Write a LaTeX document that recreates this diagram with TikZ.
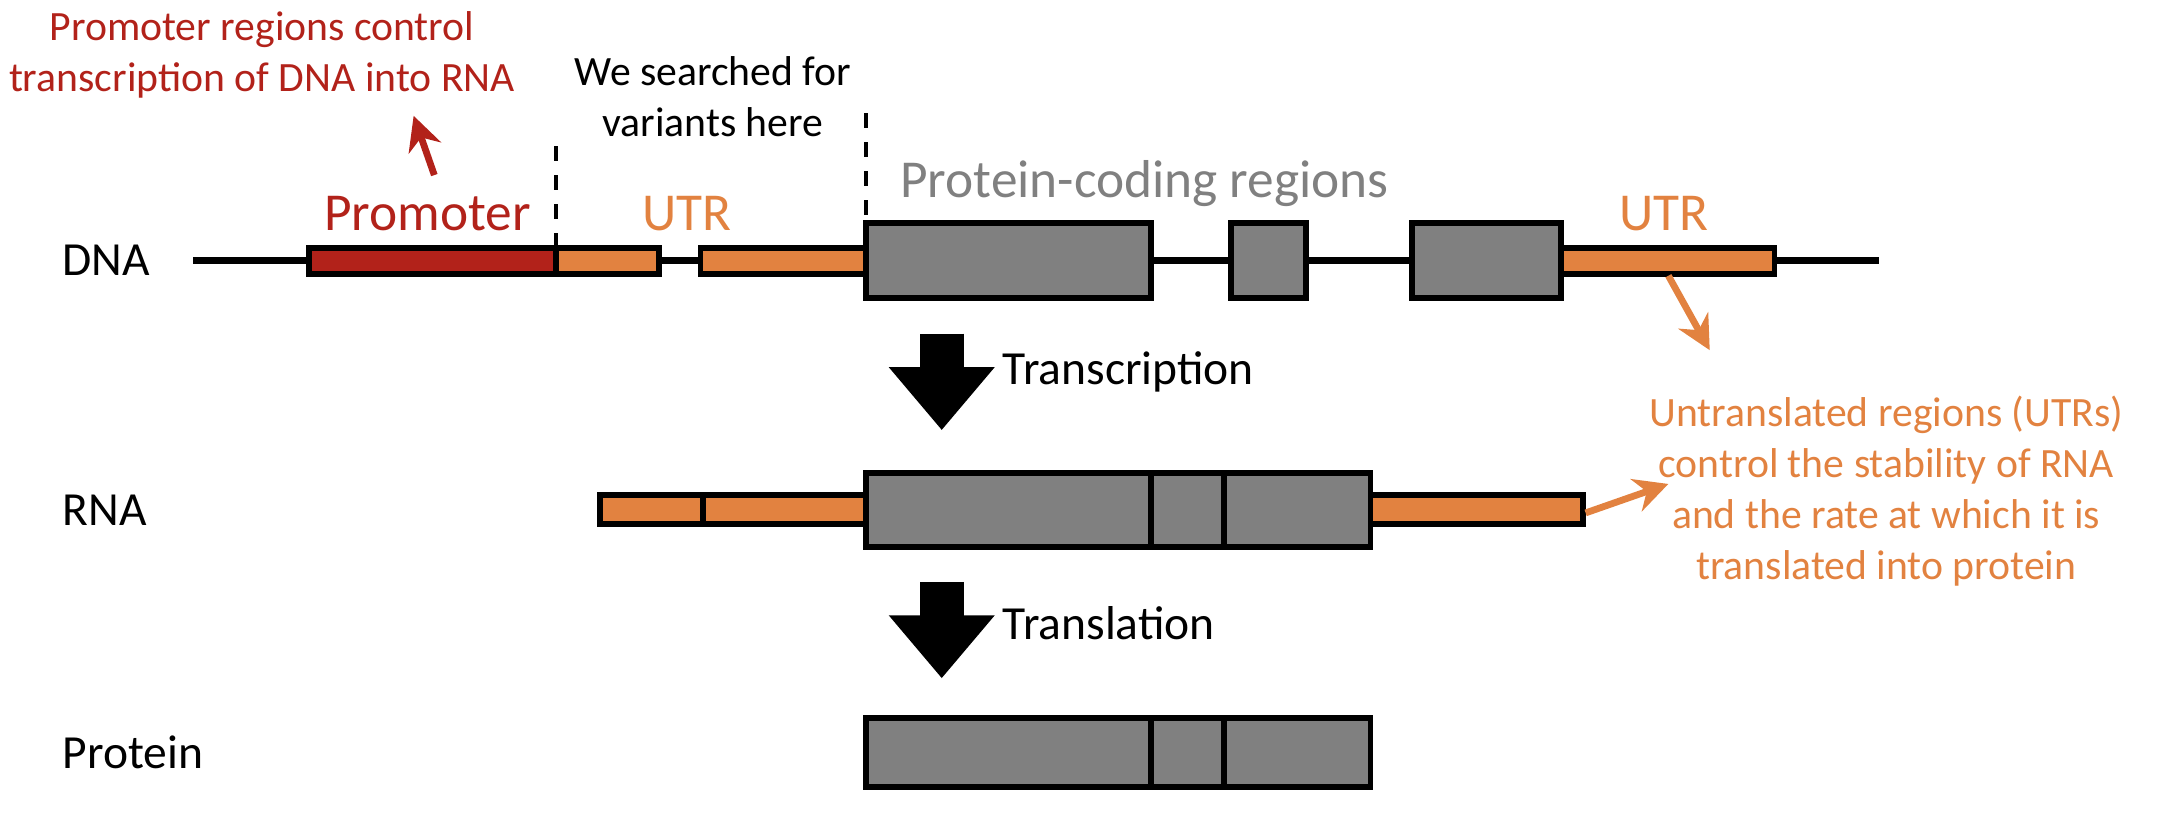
\documentclass[tikz,border=0pt]{standalone}
\usepackage{fontspec}
\setmainfont{Carlito}
\usetikzlibrary{arrows.meta}
\definecolor{promred}{RGB}{178,34,26}
\definecolor{utrorange}{RGB}{226,130,64}
\definecolor{codegrey}{RGB}{128,128,128}
\tikzset{
	exon/.style={draw=black, line width=1.2pt},
	annot/.style={align=center, font=\fontsize{8.6}{10.5}\selectfont},
	rowlabel/.style={anchor=west, font=\fontsize{9.8}{12}\selectfont},
	region/.style={font=\fontsize{11}{13}\selectfont},
	flowstep/.style={line width=9pt, -{Triangle[width=21pt,length=13pt]}},
	note/.style={line width=1.4pt, -{Stealth[width=7pt,length=7pt]}}
}
\begin{document}
\begin{tikzpicture}[x=0.01cm, y=-0.01cm]
	\useasboundingbox (0,0) rectangle (1568,595);
	
	% DNA
	\draw[line width=1.4pt] (140,189) -- (1363,189);
	\draw[exon, fill=promred] (224,180) rectangle (403,199);
	\draw[exon, fill=utrorange] (403,180) rectangle (478,199);
	\draw[exon, fill=utrorange] (508,180) rectangle (628,199);
	\draw[exon, fill=codegrey] (628,162) rectangle (835,216);
	\draw[exon, fill=codegrey] (893,162) rectangle (947,216);
	\draw[exon, fill=codegrey] (1024,162) rectangle (1132,216);
	\draw[exon, fill=utrorange] (1132,180) rectangle (1287,199);
	\coordinate (utr3) at (1210,200);
	\coordinate (promtop) at (315,127);
	
	\draw[dashed, thick] (403,106) -- (403,180);
	\draw[dashed, thick] (628,82) -- (628,162);
	
	\node[rowlabel] (dna) at (33,189) {DNA};
	\node[region, promred] (prom) at (310,155) {Promoter};
	\node[region, utrorange] (utra) at (498,155) {UTR};
	\node[region, codegrey] (coding) at (830,133) {Protein-coding regions};
	\node[region, utrorange] (utrb) at (1207,155) {UTR};
	\node[annot] (search) at (517,70) {We searched for\\variants here};
	\node[annot, promred] (promnote) at (190,40) {Promoter regions control\\transcription of DNA into RNA};
	\coordinate (promhead) at (300,84);
	\draw[note, promred] (promtop) -- (promhead);
	
	% RNA
	\node[rowlabel] (rna) at (33,370) {RNA};
	\draw[exon, fill=utrorange] (435,359) rectangle (510,380);
	\draw[exon, fill=utrorange] (510,359) rectangle (628,380);
	\draw[exon, fill=codegrey] (628,343) rectangle (835,397);
	\draw[exon, fill=codegrey] (835,343) rectangle (888,397);
	\draw[exon, fill=codegrey] (888,343) rectangle (994,397);
	\draw[exon, fill=utrorange] (994,359) rectangle (1148,380);
	\coordinate (rnautr) at (1150,372);
	
	\node[annot, utrorange] (utrnote) at (1368,356) {Untranslated regions (UTRs)\\control the stability of RNA\\and the rate at which it is\\translated into protein};
	\coordinate (utrhead) at (1240,254);
	\coordinate (rnahead) at (1210,351);
	\draw[note, utrorange] (utr3) -- (utrhead);
	\draw[note, utrorange] (rnautr) -- (rnahead);
	
	% Protein
	\node[rowlabel] (prot) at (33,546) {Protein};
	\draw[exon, fill=codegrey] (628,521) rectangle (835,571);
	\draw[exon, fill=codegrey] (835,521) rectangle (888,571);
	\draw[exon, fill=codegrey] (888,521) rectangle (994,571);
	
	% steps
	\coordinate (s1) at (683,242);
	\coordinate (e1) at (683,312);
	\coordinate (s2) at (683,422);
	\coordinate (e2) at (683,492);
	\draw[flowstep] (s1) -- (e1);
	\node[rowlabel] (transc) at (715,270) {Transcription};
	\draw[flowstep] (s2) -- (e2);
	\node[rowlabel] (transl) at (715,452) {Translation};
\end{tikzpicture}
\end{document}
